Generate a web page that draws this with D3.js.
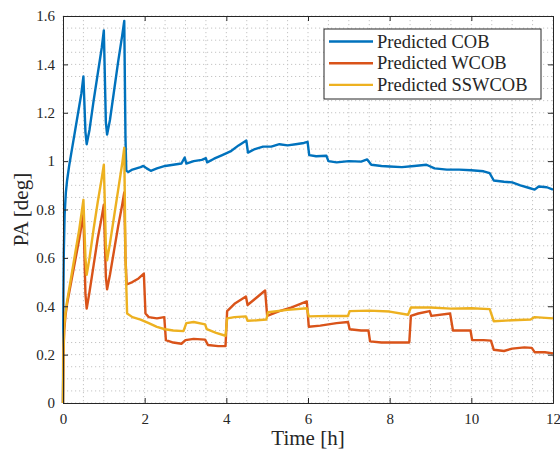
<!DOCTYPE html>
<html>
<head>
<meta charset="utf-8">
<script src="https://cdn.jsdelivr.net/npm/d3@7"></script>
<style>
  body { margin: 0; background: #fff; }
  svg text { font-family: "Liberation Serif", "DejaVu Serif", serif; font-weight: normal; fill: #262626; }
</style>
</head>
<body>
<script>
// 数据：时间(h) 和 PA(deg)，从图上读出来的
var seriesNames = ["Predicted COB", "Predicted WCOB", "Predicted SSWCOB"];
var seriesColors = ["#0072BD", "#D95319", "#EDB120"];

var cobT = [0, 0.01, 0.02, 0.04, 0.07, 0.1, 0.15, 0.2, 0.3, 0.4, 0.45, 0.5, 0.55, 0.58, 0.65, 0.75, 0.85, 0.95, 1.0, 1.05, 1.08, 1.15, 1.25, 1.35, 1.45, 1.5, 1.53, 1.55, 1.6, 1.7, 1.8, 1.9, 1.97, 2.05, 2.15, 2.3, 2.5, 2.7, 2.9, 2.98, 3.02, 3.2, 3.4, 3.5, 3.53, 3.7, 3.9, 4.1, 4.3, 4.49, 4.53, 4.7, 4.9, 5.1, 5.3, 5.5, 5.7, 5.9, 5.99, 6.03, 6.2, 6.45, 6.5, 6.7, 7.0, 7.3, 7.45, 7.55, 7.8, 8.0, 8.3, 8.6, 8.9, 9.1, 9.4, 9.7, 10.0, 10.3, 10.45, 10.55, 10.8, 11.0, 11.2, 11.4, 11.55, 11.65, 11.85, 12.0];
var cobV = [0, 0.45, 0.62, 0.78, 0.87, 0.92, 0.98, 1.03, 1.13, 1.23, 1.28, 1.35, 1.12, 1.07, 1.13, 1.25, 1.36, 1.47, 1.54, 1.16, 1.11, 1.17, 1.29, 1.41, 1.52, 1.58, 1.1, 0.96, 0.955, 0.965, 0.97, 0.975, 0.98, 0.97, 0.96, 0.97, 0.98, 0.985, 0.99, 1.015, 0.99, 1.0, 1.005, 1.012, 0.995, 1.01, 1.025, 1.04, 1.065, 1.085, 1.035, 1.05, 1.06, 1.06, 1.07, 1.065, 1.07, 1.075, 1.08, 1.025, 1.02, 1.022, 1.0, 0.995, 1.0, 0.998, 1.007, 0.985, 0.98, 0.978, 0.975, 0.98, 0.985, 0.97, 0.965, 0.965, 0.962, 0.958, 0.95, 0.92, 0.915, 0.912, 0.9, 0.89, 0.882, 0.895, 0.892, 0.882];

var wcobT = [0, 0.01, 0.03, 0.06, 0.1, 0.2, 0.3, 0.4, 0.5, 0.55, 0.58, 0.65, 0.75, 0.85, 0.95, 1.0, 1.05, 1.08, 1.15, 1.25, 1.35, 1.45, 1.5, 1.53, 1.56, 1.7, 1.85, 1.98, 2.02, 2.1, 2.3, 2.48, 2.52, 2.7, 2.9, 3.0, 3.2, 3.48, 3.55, 3.8, 3.98, 4.02, 4.2, 4.48, 4.52, 4.7, 4.95, 5.0, 5.3, 5.6, 5.97, 6.02, 6.3, 6.7, 6.98, 7.02, 7.3, 7.48, 7.52, 7.8, 8.1, 8.48, 8.52, 8.7, 8.98, 9.02, 9.48, 9.55, 9.8, 9.98, 10.02, 10.3, 10.48, 10.55, 10.8, 11.0, 11.3, 11.48, 11.55, 11.8, 12.0];
var wcobV = [0, 0.2, 0.3, 0.36, 0.41, 0.5, 0.59, 0.68, 0.78, 0.45, 0.39, 0.46, 0.57, 0.68, 0.77, 0.82, 0.52, 0.47, 0.53, 0.63, 0.73, 0.82, 0.87, 0.6, 0.49, 0.5, 0.515, 0.535, 0.37, 0.355, 0.35, 0.355, 0.26, 0.25, 0.245, 0.26, 0.265, 0.262, 0.24, 0.235, 0.235, 0.38, 0.41, 0.44, 0.405, 0.43, 0.465, 0.36, 0.38, 0.395, 0.42, 0.315, 0.32, 0.33, 0.335, 0.305, 0.3, 0.3, 0.255, 0.25, 0.25, 0.25, 0.36, 0.37, 0.38, 0.36, 0.37, 0.3, 0.3, 0.3, 0.26, 0.26, 0.258, 0.22, 0.215, 0.225, 0.23, 0.228, 0.21, 0.21, 0.205];

var sswT = [0, 0.01, 0.03, 0.06, 0.1, 0.2, 0.3, 0.4, 0.5, 0.55, 0.58, 0.65, 0.75, 0.85, 0.95, 1.0, 1.05, 1.08, 1.15, 1.25, 1.35, 1.45, 1.5, 1.53, 1.57, 1.7, 1.9, 2.1, 2.3, 2.5, 2.7, 2.95, 3.02, 3.2, 3.48, 3.52, 3.75, 3.98, 4.02, 4.2, 4.48, 4.52, 4.75, 4.98, 5.02, 5.5, 5.97, 6.02, 6.5, 6.98, 7.02, 7.5, 8.0, 8.45, 8.52, 9.0, 9.5, 10.0, 10.45, 10.55, 11.0, 11.45, 11.55, 12.0];
var sswV = [0, 0.2, 0.32, 0.37, 0.42, 0.52, 0.62, 0.72, 0.84, 0.6, 0.53, 0.6, 0.72, 0.83, 0.93, 0.985, 0.65, 0.59, 0.66, 0.77, 0.88, 0.99, 1.055, 0.6, 0.37, 0.355, 0.345, 0.33, 0.315, 0.305, 0.3, 0.297, 0.33, 0.335, 0.325, 0.305, 0.29, 0.278, 0.35, 0.355, 0.358, 0.34, 0.342, 0.345, 0.375, 0.385, 0.392, 0.358, 0.36, 0.36, 0.38, 0.382, 0.378, 0.365, 0.395, 0.395, 0.39, 0.392, 0.388, 0.338, 0.342, 0.345, 0.355, 0.35];

var xTicks = [0, 2, 4, 6, 8, 10, 12];
var yTicks = [0, 0.2, 0.4, 0.6, 0.8, 1, 1.2, 1.4, 1.6];

// 画布和边距
var W = 560, H = 451;
var margin = {top: 16, right: 7, bottom: 48, left: 63};
var width = W - margin.left - margin.right,
  height = H - margin.top - margin.bottom;

var svg = d3.select("body").append("svg")
  .attr("width", W)
  .attr("height", H);
var g = svg.append("g")
  .attr("transform", "translate(" + margin.left + "," + margin.top + ")");

var x = d3.scaleLinear().domain([0, 12]).range([0, width]);
var y = d3.scaleLinear().domain([0, 1.6]).range([height, 0]);

// 网格（主+次，都用点线）
var xMinor = d3.range(0, 12.01, 0.5);
var yMinor = d3.range(0, 1.601, 0.05);
g.append("g").selectAll("line").data(xMinor).enter().append("line")
  .attr("x1", d => x(d)).attr("x2", d => x(d))
  .attr("y1", 0).attr("y2", height)
  .attr("stroke", "#c4c4c4").attr("stroke-width", 1)
  .attr("stroke-dasharray", "1.2,2.8");
g.append("g").selectAll("line").data(yMinor).enter().append("line")
  .attr("y1", d => y(d)).attr("y2", d => y(d))
  .attr("x1", 0).attr("x2", width)
  .attr("stroke", "#c4c4c4").attr("stroke-width", 1)
  .attr("stroke-dasharray", "1.2,2.8");

// 曲线
var line = d3.line().x(d => x(d[0])).y(d => y(d[1]));
var series = [
  d3.zip(cobT, cobV),
  d3.zip(wcobT, wcobV),
  d3.zip(sswT, sswV)
];
series.forEach(function (s, i) {
  g.append("path")
    .datum(s)
    .attr("fill", "none")
    .attr("stroke", seriesColors[i])
    .attr("stroke-width", 2.4)
    .attr("stroke-linejoin", "round")
    .attr("d", line);
});

// 坐标轴（刻度朝内，四边都有）
var axisColor = "#262626";
var tickLen = 5;
var xAxis = g.append("g").attr("transform", "translate(0," + height + ")")
  .call(d3.axisBottom(x).tickValues(xTicks).tickSize(-tickLen).tickPadding(10).tickFormat(d3.format("d")));
var yAxis = g.append("g")
  .call(d3.axisLeft(y).tickValues(yTicks).tickSize(-tickLen).tickPadding(8).tickFormat(d => d3.format("")(+d.toFixed(1))));
var xTop = g.append("g")
  .call(d3.axisTop(x).tickValues(xTicks).tickSize(-tickLen).tickFormat(""));
var yRight = g.append("g").attr("transform", "translate(" + width + ",0)")
  .call(d3.axisRight(y).tickValues(yTicks).tickSize(-tickLen).tickFormat(""));
[xAxis, yAxis, xTop, yRight].forEach(function (a) {
  a.attr("font-family", "Liberation Serif");
  a.select(".domain").attr("stroke", axisColor).attr("stroke-width", 1);
  a.selectAll(".tick line").attr("stroke", axisColor);
  a.selectAll(".tick text").attr("fill", "#333")
    .style("font-family", "'Liberation Serif', serif").style("font-size", "15px");
});

// 轴标题
svg.append("text")
  .attr("x", margin.left + width / 2)
  .attr("y", 445)
  .attr("text-anchor", "middle")
  .style("font-size", "21px")
  .text("Time [h]");
svg.append("text")
  .attr("transform", "translate(28," + (margin.top + height / 2) + ") rotate(-90)")
  .attr("text-anchor", "middle")
  .style("font-size", "21px")
  .text("PA [deg]");

// 图例
var lg = svg.append("g").attr("transform", "translate(324,29)");
lg.append("rect")
  .attr("width", 217).attr("height", 70)
  .attr("fill", "#fff").attr("stroke", axisColor).attr("stroke-width", 1);
seriesNames.forEach(function (name, i) {
  var yy = 12.5 + i * 21.7;
  lg.append("line")
    .attr("x1", 5).attr("x2", 49)
    .attr("y1", yy).attr("y2", yy)
    .attr("stroke", seriesColors[i]).attr("stroke-width", 2.4);
  lg.append("text")
    .attr("x", 53).attr("y", yy)
    .attr("dy", "0.33em")
    .style("font-size", "18.5px")
    .text(name);
});
</script>
</body>
</html>
